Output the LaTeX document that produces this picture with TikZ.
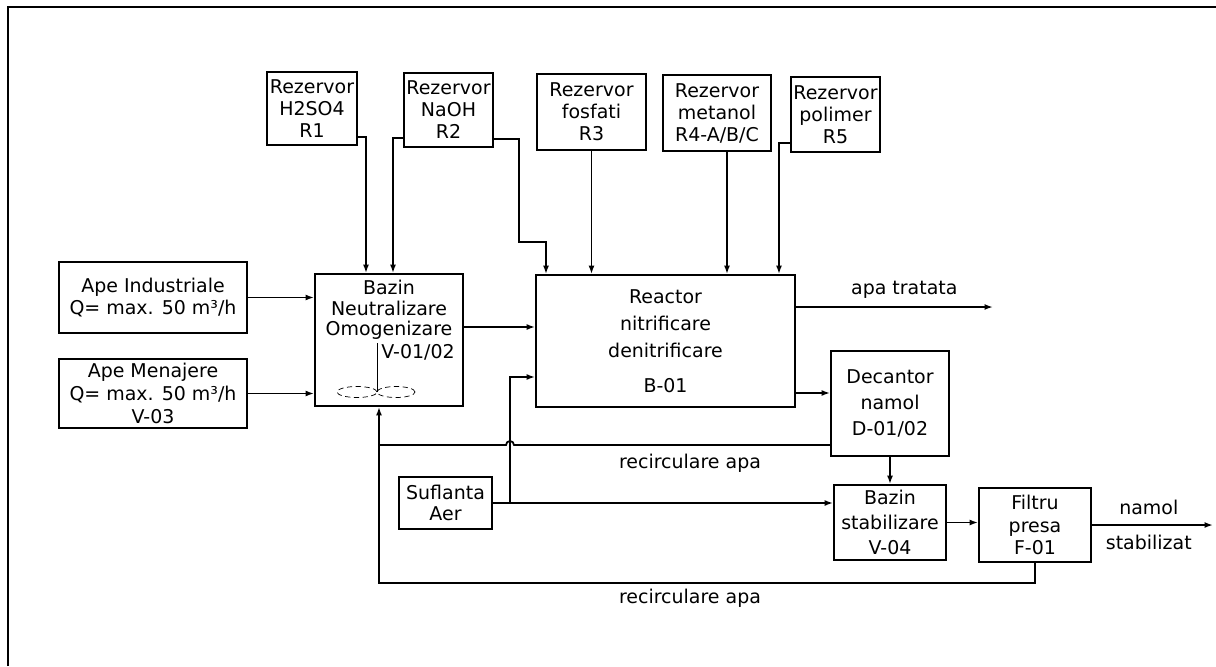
\documentclass[tikz,border=0pt]{standalone}
\usepackage{fontspec}
\setmainfont{DejaVu Sans}
\usetikzlibrary{arrows.meta, positioning}

\begin{document}
\begin{tikzpicture}[x=0.02cm, y=-0.02cm,
    every node/.style={font=\fontsize{10.8}{12.5}\selectfont},
    box/.style={draw, line width=1pt, align=center, inner sep=1pt},
    arr/.style={-{Latex[length=1.7mm,width=1.2mm]}, line width=1pt},
    conn/.style={line width=1pt}]

    \useasboundingbox (0,0) rectangle (1216,666);
    % frame
    \draw[line width=1.7pt] (8,666) -- (8,7) -- (1216,7);

    % rezervoare
    \node[box, minimum width=1.8cm, minimum height=1.46cm] (r1) at (312,108.5) {Rezervor\\H2SO4\\R1};
    \node[box, minimum width=1.78cm, minimum height=1.48cm] (r2) at (448.5,110) {Rezervor\\NaOH\\R2};
    \node[box, minimum width=2.18cm, minimum height=1.52cm] (r3) at (591.5,112) {Rezervor\\fosfati\\R3};
    \node[box, minimum width=2.16cm, minimum height=1.52cm] (r4) at (717,113) {Rezervor\\metanol\\R4-A/B/C};
    \node[box, minimum width=1.78cm, minimum height=1.5cm] (r5) at (835.5,114.5) {Rezervor\\polimer\\R5};

    % intrari
    \node[box, minimum width=3.76cm, minimum height=1.42cm, font=\fontsize{10.8}{13}\selectfont] (ind) at (153,297.5) {Ape Industriale\\Q= max. 50 m³/h};
    \node[box, minimum width=3.76cm, minimum height=1.38cm, font=\fontsize{10.8}{13}\selectfont] (men) at (153,393.5) {Ape Menajere\\Q= max. 50 m³/h\\V-03};

    % bazin neutralizare
    \node[box, minimum width=2.96cm, minimum height=2.64cm] (baz) at (389,340) {};
    \node[align=center, font=\fontsize{10.8}{11.6}\selectfont] (baztxt) at (389,310) {Bazin\\Neutralizare\\Omogenizare};
    \node[anchor=west, inner sep=0pt] (bazv) at (381,352) {V-01/02};
    \draw[thin] (377,343) -- (377,392);
    \draw[thin, densely dashed] (357,392) ellipse [x radius=0.4cm, y radius=0.11cm];
    \draw[thin, densely dashed] (396,392) ellipse [x radius=0.38cm, y radius=0.11cm];

    % reactor, decantor
    \node[box, minimum width=5.18cm, minimum height=2.64cm, font=\fontsize{10.8}{15.5}\selectfont] (rea) at (665.5,341) {Reactor\\nitrificare\\denitrificare\\[4pt]B-01};
    \node[box, minimum width=2.36cm, minimum height=2.1cm, font=\fontsize{10.8}{15}\selectfont] (dec) at (890,403.5) {Decantor\\namol\\D-01/02};

    % linia namol
    \node[box, minimum width=2.24cm, minimum height=1.5cm, font=\fontsize{10.8}{14}\selectfont] (sta) at (890,522.5) {Bazin\\stabilizare\\V-04};
    \node[box, minimum width=2.24cm, minimum height=1.48cm, font=\fontsize{10.8}{13}\selectfont] (fil) at (1035,525) {Filtru\\presa\\F-01};
    \node[box, minimum width=1.86cm, minimum height=1.04cm, font=\fontsize{10.8}{11.5}\selectfont] (suf) at (445.5,503) {Suflanta\\Aer};

    % reactivi
    \coordinate (r2k) at (519,242);
    \coordinate (r4o) at ([xshift=0.2cm]r4.south);
    \draw[arr] ([yshift=-0.57cm]r1.east) -| ([xshift=-0.46cm]baz.north);
    \draw[arr] ([yshift=-0.56cm]r2.west) -| ([xshift=0.08cm]baz.north);
    \draw[arr] ([yshift=-0.58cm]r2.east) -| (r2k) -| ([xshift=-2.39cm]rea.north);
    \draw[arr] (r3.south) -- (r3.south |- rea.north);
    \draw[arr] (r4o) -- (r4o |- rea.north);
    \draw[arr] ([yshift=-0.57cm]r5.west) -| ([xshift=2.27cm]rea.north);

    % ape
    \coordinate (bo) at ([yshift=0.26cm]baz.east);
    \draw[arr] (ind.east) -- (ind.east -| baz.west);
    \draw[arr] (men.east) -- (men.east -| baz.west);
    \draw[arr] (bo) -- (bo -| rea.west);

    % iesiri reactor
    \coordinate (ro1) at ([yshift=0.68cm]rea.east);
    \coordinate (apaout) at (993,307);
    \coordinate (ro2) at ([yshift=-1.04cm]rea.east);
    \draw[arr] (ro1) -- (apaout) node[pos=0.55, above=1pt] (lapa) {apa tratata};
    \draw[arr] (ro2) -- (ro2 -| dec.west);
    \draw[arr] (dec.south) -- (dec.south |- sta.north);
    \draw[arr] (sta.east) -- (sta.east -| fil.west);
    \coordinate (nout) at (1213,525);
    \draw[arr] (fil.east) -- (nout) node[pos=0.47, above=2pt] (lnam) {namol} node[pos=0.47, below=2pt] (lstab) {stabilizat};

    % aer
    \coordinate (aj) at (510,503);
    \coordinate (ai) at ([yshift=-0.72cm]rea.west);
    \draw[arr] (suf.east) -- (suf.east -| sta.west);
    \draw[arr] (aj) |- (ai);

    % recirculare
    \coordinate (rj1) at (379,445);
    \coordinate (rj2) at (379,583);
    \coordinate (hop) at (514,445);
    \draw[conn] ([yshift=-0.83cm]dec.west) -- (hop) arc[start angle=0, end angle=180, radius=0.08cm] -- (rj1);
    \draw[arr] (fil.south) |- (rj2) -- (rj2 |- baz.south);
    \node (lrec1) at (690,463) {recirculare apa};
    \node (lrec2) at (690,598) {recirculare apa};

\end{tikzpicture}
\end{document}
